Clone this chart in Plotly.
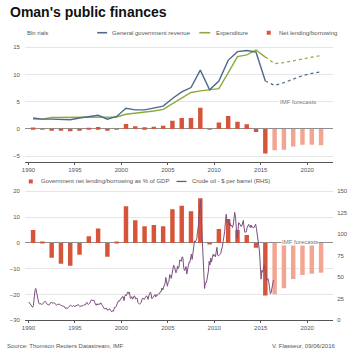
import plotly.graph_objects as go
import pandas as pd

# ---------------- data ----------------
actual_years = list(range(1990, 2016))
forecast_years = list(range(2016, 2022))
fc_line_years = list(range(2015, 2022))

# Bln rials (top chart)
revenue = [2.0, 1.8, 1.8, 1.7, 1.7, 2.0, 2.3, 2.5, 1.8, 2.3,
           3.8, 3.5, 3.5, 3.8, 4.2, 5.6, 6.8, 7.6, 10.8, 7.2,
           8.8, 12.6, 14.2, 14.4, 14.1, 8.8]
expenditure = [1.8, 1.8, 2.1, 2.1, 2.2, 2.2, 2.2, 2.2, 2.1, 2.2,
               2.7, 2.9, 3.0, 3.3, 3.6, 4.6, 5.6, 6.7, 7.0, 7.2,
               7.4, 10.3, 13.3, 13.6, 14.5, 13.2]
revenue_fc = [8.8, 8.0, 8.5, 9.2, 9.8, 10.2, 10.5]
expenditure_fc = [13.2, 12.0, 12.2, 12.5, 12.8, 13.1, 13.5]
net_bln = [0.25, 0.02, -0.3, -0.3, -0.4, -0.25, 0.1, 0.35, -0.3, 0.03,
           0.9, 0.5, 0.3, 0.4, 0.6, 1.5, 2.0, 2.0, 3.9, -0.05,
           1.2, 2.4, 1.3, 0.85, -0.55, -4.5]
net_bln_fc = [-3.9, -3.8, -3.2, -2.9, -2.9, -3.0]

# % of GDP (bottom chart)
net_pct = [5.0, 0.3, -5.8, -8.1, -8.9, -4.6, 2.6, 5.6, -5.4, 0.3,
           14.2, 8.8, 6.5, 6.9, 6.5, 13.0, 14.4, 12.3, 17.3, -0.3,
           5.4, 9.3, 5.0, 3.1, -1.9, -20.4]
net_pct_fc = [-19.9, -17.6, -14.0, -12.4, -12.0, -11.6]

# Crude oil, $ per barrel, monthly from Jan 1990
oil_price = [
    21.2, 19.8, 18.4, 16.6, 16.4, 15.1, 17.2, 27.2, 34.9, 37.0, 32.8, 27.0,
    23.6, 19.5, 19.1, 19.2, 19.2, 18.2, 19.4, 19.8, 20.5, 22.2, 21.1, 18.4,
    18.2, 18.1, 17.6, 18.9, 19.9, 21.2, 20.3, 19.7, 20.3, 20.3, 19.1, 18.2,
    17.5, 18.6, 18.6, 18.6, 18.6, 17.7, 16.8, 16.9, 16.2, 16.6, 15.4, 13.9,
    14.5, 13.7, 13.7, 15.0, 16.2, 17.0, 17.7, 16.9, 16.0, 16.4, 17.2, 15.9,
    16.6, 17.2, 17.0, 18.6, 18.2, 17.3, 16.0, 16.5, 16.7, 16.1, 17.0, 17.9,
    17.9, 18.0, 19.8, 20.9, 18.9, 18.4, 19.5, 20.3, 22.5, 23.9, 22.8, 23.7,
    23.5, 20.8, 19.2, 17.5, 19.2, 17.7, 19.0, 18.8, 18.7, 20.3, 19.2, 17.2,
    15.5, 14.2, 13.1, 13.5, 14.4, 12.2, 12.1, 11.9, 13.4, 12.9, 11.1, 9.8,
    11.1, 10.3, 12.5, 15.3, 15.2, 15.9, 19.1, 20.3, 22.6, 22.1, 24.6, 25.5,
    25.5, 27.8, 27.5, 22.8, 27.7, 29.8, 28.7, 30.2, 33.1, 31.0, 32.6, 25.7,
    25.6, 27.5, 24.5, 25.7, 28.3, 27.9, 24.6, 25.7, 25.6, 20.5, 18.8, 18.7,
    19.4, 20.3, 23.7, 25.7, 25.4, 24.1, 25.7, 26.7, 28.4, 27.5, 24.3, 28.3,
    31.2, 32.8, 30.6, 25.0, 25.9, 27.7, 28.4, 29.9, 27.1, 29.6, 28.8, 29.8,
    31.3, 30.9, 33.6, 33.6, 37.6, 35.2, 38.2, 42.7, 43.2, 49.8, 43.1, 39.6,
    44.5, 45.5, 53.1, 51.9, 48.7, 54.4, 57.5, 64.0, 62.9, 58.5, 55.2, 56.9,
    63.0, 60.2, 62.1, 70.3, 69.8, 68.6, 73.7, 73.2, 62.0, 57.8, 58.8, 62.5,
    53.7, 57.6, 62.1, 67.5, 67.2, 71.1, 76.9, 70.8, 77.2, 82.3, 92.4, 90.9,
    92.2, 95.0, 103.6, 109.1, 122.8, 134.0, 140.0, 113.2, 97.2, 71.6, 52.5, 37.0,
    43.4, 43.3, 46.5, 50.2, 57.3, 68.6, 64.4, 72.5, 67.7, 72.8, 76.7, 74.5,
    76.2, 73.8, 78.8, 84.8, 76.0, 74.8, 75.6, 77.0, 77.8, 82.7, 85.3, 91.5,
    96.5, 103.7, 114.6, 123.3, 115.0, 113.8, 117.0, 110.2, 112.8, 109.6, 110.8, 107.9,
    110.7, 119.3, 125.5, 119.8, 110.3, 95.2, 102.6, 113.4, 112.9, 111.7, 109.1, 109.5,
    113.0, 116.1, 108.5, 102.3, 102.6, 102.9, 107.9, 111.3, 111.6, 109.1, 107.8, 110.8,
    108.1, 108.9, 107.5, 107.8, 109.5, 111.8, 106.8, 101.6, 97.1, 87.4, 79.4, 62.3,
    47.8, 58.1, 55.9, 59.5, 64.1, 61.5, 56.6, 46.5, 47.6, 48.4, 44.3, 38.0,
    30.7, 32.2, 38.2, 41.6, 46.7,
]

tick_years = [1990, 1995, 2000, 2005, 2010, 2015, 2020]

# ---------------- helpers ----------------
W = H = 355


def mid(years):
    return [f"{y}-07-01" for y in years]


oil_dates = pd.date_range("1990-01-01", periods=len(oil_price), freq="MS") + pd.Timedelta(days=14)
bar_w = 0.48 * 365.25 * 86400000

DARK = "#d6553a"
LIGHT = "#f2a591"
BLUE = "#4d6a8b"
GREEN = "#8ea83e"
PURPLE = "#7c4f80"
GRID = "#e6e6e6"
ZERO = "#8f8f8f"
TXT = "#555555"
FONT = "Liberation Sans, Arial, sans-serif"

fig = go.Figure()

# top chart
fig.add_trace(go.Bar(x=mid(actual_years), y=net_bln, width=bar_w, marker_color=DARK,
                     marker_line_width=0, xaxis="x", yaxis="y"))
fig.add_trace(go.Bar(x=mid(forecast_years), y=net_bln_fc, width=bar_w, marker_color=LIGHT,
                     marker_line_width=0, xaxis="x", yaxis="y"))
fig.add_trace(go.Scatter(x=mid(actual_years), y=expenditure, mode="lines",
                         line=dict(color=GREEN, width=1.4), xaxis="x", yaxis="y"))
fig.add_trace(go.Scatter(x=mid(actual_years), y=revenue, mode="lines",
                         line=dict(color=BLUE, width=1.4), xaxis="x", yaxis="y"))
fig.add_trace(go.Scatter(x=mid(fc_line_years), y=expenditure_fc, mode="lines",
                         line=dict(color=GREEN, width=1.2, dash="dot"), xaxis="x", yaxis="y"))
fig.add_trace(go.Scatter(x=mid(fc_line_years), y=revenue_fc, mode="lines",
                         line=dict(color=BLUE, width=1.2, dash="dot"), xaxis="x", yaxis="y"))

# bottom chart
fig.add_trace(go.Bar(x=mid(actual_years), y=net_pct, width=bar_w, marker_color=DARK,
                     marker_line_width=0, xaxis="x2", yaxis="y2"))
fig.add_trace(go.Bar(x=mid(forecast_years), y=net_pct_fc, width=bar_w, marker_color=LIGHT,
                     marker_line_width=0, xaxis="x2", yaxis="y2"))
fig.add_trace(go.Scatter(x=oil_dates, y=oil_price, mode="lines",
                         line=dict(color=PURPLE, width=1), xaxis="x2", yaxis="y3"))

xdom = [22 / W, 333 / W]
xrange = ["1989-08-10", "2022-10-20"]
tickv = [f"{y}-01-01" for y in tick_years]
tickt = [str(y) for y in tick_years]

xcommon = dict(type="date", domain=xdom, range=xrange, tickvals=tickv, ticktext=tickt,
               showgrid=False, showline=True, linecolor="#555", linewidth=1,
               ticks="outside", ticklen=2, tickcolor="#555",
               tickfont=dict(size=6, color=TXT, family=FONT), zeroline=False)

fig.update_layout(
    width=W, height=H, margin=dict(l=0, r=0, t=0, b=0),
    paper_bgcolor="white", plot_bgcolor="white", showlegend=False,
    barmode="overlay", font=dict(family=FONT, size=6, color=TXT),
    xaxis=dict(anchor="y", **xcommon),
    xaxis2=dict(anchor="y2", **xcommon),
    yaxis=dict(domain=[1 - 163 / H, 1 - 40 / H], range=[-6, 16.4],
               tickvals=[-5, 0, 5, 10, 15], showgrid=True, gridcolor=GRID, gridwidth=1,
               zeroline=True, zerolinecolor=ZERO, zerolinewidth=1, showline=False,
               tickfont=dict(size=6, color=TXT, family=FONT), ticklabelstandoff=4),
    yaxis2=dict(domain=[1 - 323 / H, 1 - 188 / H], range=[-30, 21.9],
                tickvals=[-30, -20, -10, 0, 10, 20], showgrid=True, gridcolor=GRID, gridwidth=1,
                zeroline=True, zerolinecolor=ZERO, zerolinewidth=1, showline=False,
                tickfont=dict(size=6, color=TXT, family=FONT), ticklabelstandoff=4),
    yaxis3=dict(overlaying="y2", side="right", anchor="x2", range=[0, 155.7],
                tickvals=[0, 25, 50, 75, 100, 125, 150], showgrid=False, zeroline=False,
                showline=False, tickfont=dict(size=6, color=TXT, family=FONT),
                ticklabelstandoff=3),
)


def px(x):
    return x / W


def py(y):
    return 1 - y / H


ann = []
ann.append(dict(text="<b>Oman's public finances</b>", x=px(5), y=py(12), xanchor="left",
                yanchor="middle", showarrow=False, font=dict(size=14, color="#111", family=FONT)))
# top legend
ann.append(dict(text="Bln rials", x=px(22), y=py(33), xanchor="left", yanchor="middle",
                showarrow=False, font=dict(size=6, color=TXT, family=FONT)))
ann.append(dict(text="General government revenue", x=px(108), y=py(33), xanchor="left",
                yanchor="middle", showarrow=False, font=dict(size=6, color=TXT, family=FONT)))
ann.append(dict(text="Expenditure", x=px(213), y=py(33), xanchor="left", yanchor="middle",
                showarrow=False, font=dict(size=6, color=TXT, family=FONT)))
ann.append(dict(text="Net lending/borrowing", x=px(276), y=py(33), xanchor="left",
                yanchor="middle", showarrow=False, font=dict(size=6, color=TXT, family=FONT)))
# bottom legend
ann.append(dict(text="Government net lending/borrowing as % of GDP", x=px(36), y=py(183),
                xanchor="left", yanchor="middle", showarrow=False,
                font=dict(size=6, color=TXT, family=FONT)))
ann.append(dict(text="Crude oil - $ per barrel (RHS)", x=px(189), y=py(183), xanchor="left",
                yanchor="middle", showarrow=False, font=dict(size=6, color=TXT, family=FONT)))
# IMF forecasts
ann.append(dict(text="IMF forecasts", x="2019-01-01", y=5, xref="x", yref="y",
                xanchor="center", yanchor="middle", showarrow=False, bgcolor="white",
                borderpad=1, font=dict(size=6, color="#777", family=FONT)))
ann.append(dict(text="IMF forecasts", x="2019-04-01", y=0.4, xref="x2", yref="y2",
                xanchor="center", yanchor="middle", showarrow=False, bgcolor="white",
                borderpad=0, font=dict(size=6, color="#777", family=FONT)))
# footer
ann.append(dict(text="Source: Thomson Reuters Datastream, IMF", x=px(2), y=py(349),
                xanchor="left", yanchor="middle", showarrow=False,
                font=dict(size=6, color=TXT, family=FONT)))
ann.append(dict(text="V. Flasseur, 09/06/2016", x=px(337), y=py(349), xanchor="right",
                yanchor="middle", showarrow=False, font=dict(size=6, color=TXT, family=FONT)))
for a in ann:
    a.setdefault("xref", "paper")
    a.setdefault("yref", "paper")
fig.update_layout(annotations=ann)

shapes = [
    dict(type="line", xref="paper", yref="paper", x0=px(95), x1=px(105), y0=py(33), y1=py(33),
         line=dict(color=BLUE, width=1.6)),
    dict(type="line", xref="paper", yref="paper", x0=px(198), x1=px(209), y0=py(33), y1=py(33),
         line=dict(color=GREEN, width=1.6)),
    dict(type="rect", xref="paper", yref="paper", x0=px(266), x1=px(270), y0=py(35), y1=py(31),
         fillcolor=DARK, line=dict(width=0)),
    dict(type="rect", xref="paper", yref="paper", x0=px(26), x1=px(30), y0=py(185), y1=py(181),
         fillcolor=DARK, line=dict(width=0)),
    dict(type="line", xref="paper", yref="paper", x0=px(175), x1=px(185), y0=py(183), y1=py(183),
         line=dict(color=PURPLE, width=1.3)),
]
fig.update_layout(shapes=shapes)

fig.write_html("out.html", config={"displayModeBar": False},
               post_script="document.body.style.margin='0';document.body.style.padding='0';")
